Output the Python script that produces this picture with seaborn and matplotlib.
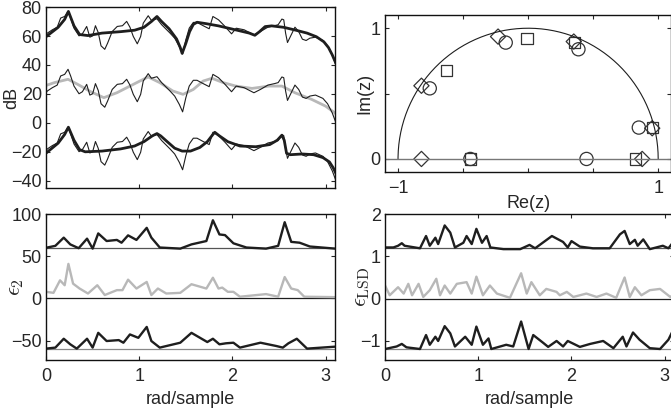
import numpy as np
import pandas as pd
import matplotlib
matplotlib.use("Agg")
from matplotlib import pyplot as plt
import seaborn as sns

# --- spectrum (thin line), drawn three times with offsets ---
spec_x = [-0.02, 0.014, 0.068, 0.12, 0.157, 0.20, 0.236, 0.264, 0.30, 0.354, 0.39, 0.436,
          0.47, 0.50, 0.53, 0.56, 0.59, 0.63, 0.66, 0.71, 0.764, 0.82, 0.865, 0.90, 0.936,
          0.979, 1.015, 1.043, 1.096, 1.13, 1.19, 1.24, 1.33, 1.38, 1.43, 1.465, 1.50,
          1.536, 1.58, 1.62, 1.686, 1.75, 1.79, 1.85, 1.92, 1.99, 2.04, 2.125, 2.23, 2.30,
          2.38, 2.45, 2.49, 2.53, 2.55, 2.57, 2.59, 2.63, 2.67, 2.71, 2.75, 2.79, 2.83,
          2.89, 2.97, 3.02, 3.07, 3.11]
spec_y = [19.2, 22, 24.3, 26.1, 32.4, 33.5, 37, 32.4, 25.4, 20.1, 21.5, 26.6,
          19.2, 20.1, 27.1, 22.4, 13.2, 10.8, 15, 23.1, 26.6, 27.1, 30.1, 26.1, 19.7,
          14.6, 19.7, 28.9, 34, 30.8, 31.9, 27.8, 22, 18.5, 12.7, 7.6, 17.4,
          25.4, 29.4, 29.4, 27.1, 25, 33.5, 31.2, 26.6, 21.5, 25.4, 24.3, 20.8, 23.1,
          26.1, 27.1, 27.8, 31.7, 31.2, 21.9, 15.5, 20.8, 26.1, 23.1, 17.8, 16.9, 18.5,
          19.2, 16.9, 13.2, 6.9, 0]
spec_offsets = [40, 0, -40]

# --- model fits (thick lines) ---
fit_top_x = [-0.02, 0.13, 0.20, 0.24, 0.30, 0.36, 0.45, 0.60, 0.80, 0.95, 1.05, 1.13,
             1.19, 1.24, 1.32, 1.40, 1.44, 1.46, 1.50, 1.54, 1.58, 1.62, 1.72, 1.85,
             1.95, 2.05, 2.18, 2.24, 2.29, 2.35, 2.42, 2.55, 2.68, 2.80, 2.90, 2.98,
             3.03, 3.07, 3.11]
fit_top_y = [58.5, 66, 71.5, 77, 67, 61, 60.3, 62, 63, 64, 66, 70,
             73.5, 70, 65, 58, 52, 48, 55, 63, 68, 69.5, 68.5, 67,
             65.5, 64, 62, 60.5, 63, 66.5, 67, 66, 64, 62, 59.5, 56,
             52, 47, 41]
fit_mid_x = [-0.02, 0.09, 0.236, 0.34, 0.48, 0.62, 0.76, 0.90, 1.007, 1.096, 1.22,
             1.36, 1.47, 1.58, 1.686, 1.78, 1.90, 2.036, 2.21, 2.39, 2.53, 2.67, 2.85,
             3.00, 3.11]
fit_mid_y = [25.4, 27.8, 30.1, 26.6, 21.5, 17.4, 20.8, 25.4, 28.9, 31.7, 27.8,
             22, 19.7, 23.1, 28.9, 30.8, 27.8, 25.4, 23.8, 25.4, 25.4, 20.8, 16.2,
             11.5, 6.3]
fit_bot_x = [-0.02, 0.13, 0.20, 0.24, 0.30, 0.36, 0.42, 0.60, 0.80, 0.95, 1.05, 1.14,
             1.19, 1.23, 1.30, 1.38, 1.46, 1.55, 1.65, 1.73, 1.79, 1.81, 1.86, 1.95,
             2.08, 2.25, 2.40, 2.48, 2.53, 2.555, 2.58, 2.62, 2.75, 2.87, 2.97, 3.04,
             3.08, 3.11]
fit_bot_y = [-22, -14, -8, -3, -12, -18.5, -20, -19.5, -18, -16, -13, -9,
             -7.4, -9, -13, -17.5, -19.5, -19.5, -17, -13, -8, -6.5, -9, -13,
             -16, -16.5, -15, -12, -8.5, -12, -21, -22, -21.5, -22, -24, -27,
             -31, -35]

# --- poles in the z-plane ---
circ_re = [-0.756, -0.172, 0.387, 0.851, -0.444, 0.449]
circ_im = [0.54, 0.89, 0.839, 0.24, 0.0, 0.0]
sq_re = [-0.628, -0.008, 0.359, 0.954, -0.444, 0.826]
sq_im = [0.676, 0.923, 0.893, 0.24, 0.0, 0.0]
dia_re = [-0.82, -0.231, 0.351, 0.954, -0.82, 0.877]
dia_im = [0.56, 0.936, 0.898, 0.235, 0.0, 0.0]

# --- epsilon_2 error curves (already offset) ---
e2_x_top = [0.00, 0.10, 0.19, 0.26, 0.35, 0.44, 0.50, 0.56, 0.65, 0.76, 0.81, 0.88, 0.97,
            1.08, 1.13, 1.22, 1.44, 1.56, 1.72, 1.79, 1.86, 1.92, 2.01, 2.15, 2.36, 2.49,
            2.56, 2.63, 2.72, 2.83, 3.10]
e2_y_top = [60, 62.3, 72, 64, 59.5, 70.8, 59, 77, 68, 69.3, 66, 74.7, 69.3,
            83.6, 72, 60.3, 59, 64, 68, 92.6, 75.8, 75, 65.3, 60.3, 59, 62.3,
            90.3, 67, 66, 61.5, 59]
e2_x_mid = [0.00, 0.08, 0.15, 0.20, 0.24, 0.29, 0.36, 0.45, 0.55, 0.63, 0.76, 0.82, 0.88,
            0.97, 1.08, 1.13, 1.20, 1.29, 1.44, 1.56, 1.72, 1.79, 1.85, 1.89, 1.95, 2.01,
            2.08, 2.36, 2.49, 2.56, 2.63, 2.70, 2.77, 3.10]
e2_y_mid = [7.8, 6.6, 21.4, 15.6, 40.9, 17.5, 11.7, 5.8, 15.6, 4, 9.8, 9.8, 22.2,
            11.7, 19.5, 4, 11.7, 5.8, 6.6, 16.8, 11.7, 24.5, 11.7, 12.8, 7.8, 7.8,
            2, 5.1, 2, 25.3, 11.7, 9.8, 2, 1.5]
e2_x_bot = [0.00, 0.10, 0.19, 0.26, 0.33, 0.44, 0.50, 0.56, 0.65, 0.78, 0.83, 0.90, 0.99,
            1.08, 1.13, 1.22, 1.44, 1.56, 1.68, 1.73, 1.79, 1.86, 1.93, 2.01, 2.08, 2.30,
            2.47, 2.54, 2.60, 2.69, 2.80, 3.10]
e2_y_bot = [-59.5, -58.3, -47.8, -54.4, -59.5, -47.8, -58.3, -40.8, -50.5, -49.4, -52.5,
            -42.7, -46.7, -33.8, -50.5, -58.3, -52.5, -40.8, -48.5, -51.7, -47.8, -54.4,
            -53.2, -52.5, -58.3, -52.5, -56.4, -58.3, -53.2, -47.8, -59.5, -57.2]

# --- epsilon_LSD error curves (already offset) ---
lsd_x_top = [0.00, 0.09, 0.14, 0.18, 0.21, 0.375, 0.44, 0.48, 0.54, 0.57, 0.64, 0.70, 0.75,
             0.84, 0.875, 0.93, 0.98, 1.04, 1.09, 1.13, 1.27, 1.45, 1.55, 1.61, 1.79, 1.91,
             1.96, 2.00, 2.09, 2.23, 2.41, 2.52, 2.57, 2.625, 2.68, 2.71, 2.77, 2.84, 2.98,
             3.04, 3.10]
lsd_y_top = [1.21, 1.21, 1.25, 1.31, 1.25, 1.19, 1.48, 1.25, 1.44, 1.29, 1.73, 1.56, 1.21,
             1.32, 1.48, 1.29, 1.65, 1.32, 1.48, 1.21, 1.17, 1.17, 1.27, 1.19, 1.48, 1.34,
             1.21, 1.36, 1.23, 1.19, 1.19, 1.52, 1.60, 1.29, 1.39, 1.25, 1.40, 1.17, 1.25,
             1.19, 1.36]
lsd_x_mid = [0.00, 0.05, 0.14, 0.20, 0.25, 0.29, 0.36, 0.41, 0.48, 0.55, 0.59, 0.64, 0.70,
             0.77, 0.875, 0.93, 0.98, 1.05, 1.125, 1.20, 1.34, 1.46, 1.52, 1.57, 1.66, 1.73,
             1.84, 1.875, 1.95, 2.02, 2.16, 2.27, 2.375, 2.48, 2.57, 2.625, 2.68, 2.75, 2.84,
             2.95, 3.06, 3.10]
lsd_y_mid = [0.31, 0.08, 0.27, 0.12, 0.35, 0.08, 0.35, 0.04, 0.2, 0.47, 0.08, 0.31, 0.12,
             0.35, 0.39, 0.12, 0.52, 0.08, 0.31, 0.12, 0.02, 0.60, 0.12, 0.39, 0.08, 0.23,
             0.16, 0.08, 0.16, 0.04, 0.12, 0.04, 0.12, 0.02, 0.50, 0.04, 0.27, 0.08, 0.2,
             0.23, 0.04, 0.1]
lsd_x_bot = [0.00, 0.125, 0.18, 0.23, 0.375, 0.44, 0.48, 0.54, 0.57, 0.64, 0.70, 0.75, 0.86,
             0.93, 0.98, 1.05, 1.11, 1.14, 1.30, 1.375, 1.46, 1.54, 1.59, 1.70, 1.75, 1.84,
             1.91, 1.96, 2.09, 2.20, 2.34, 2.45, 2.55, 2.59, 2.66, 2.73, 2.84, 2.95, 3.04,
             3.10]
lsd_y_bot = [-1.19, -1.13, -1.07, -1.15, -1.19, -0.86, -1.09, -0.90, -1.0, -0.65, -0.82,
             -1.13, -0.90, -1.09, -0.66, -1.09, -0.94, -1.19, -1.09, -1.13, -0.54, -1.19,
             -0.86, -1.05, -1.14, -1.0, -1.13, -1.0, -1.14, -1.07, -1.0, -1.17, -0.90, -1.13,
             -0.80, -0.97, -1.17, -1.19, -0.97, -0.70]

BLACK = "#1e1e1e"
GRAY = "#b8b8b8"

sns.set_style("ticks")
plt.rcParams.update({
    "font.family": ["Liberation Sans", "DejaVu Sans"],
    "font.size": 13,
    "mathtext.fontset": "cm",
    "xtick.direction": "in",
    "ytick.direction": "in",
    "xtick.top": True,
    "ytick.right": True,
    "axes.linewidth": 1.0,
    "axes.edgecolor": "#111111",
    "lines.solid_joinstyle": "round",
})

fig = plt.figure(figsize=(6.71, 4.15), dpi=100)
ax_db = fig.add_axes([0.0686, 0.547, 0.4307, 0.436])
ax_z = fig.add_axes([0.5738, 0.5855, 0.4265, 0.378])
ax_e2 = fig.add_axes([0.0686, 0.1325, 0.4307, 0.3518])
ax_lsd = fig.add_axes([0.5738, 0.1325, 0.4307, 0.3518])


def line(ax, x, y, color, lw):
    sns.lineplot(x=x, y=y, ax=ax, color=color, lw=lw, sort=False,
                 estimator=None, legend=False)


# top-left: spectra and fits
line(ax_db, fit_mid_x, fit_mid_y, GRAY, 2.0)
for off in spec_offsets:
    line(ax_db, spec_x, np.array(spec_y) + off, BLACK, 0.8)
line(ax_db, fit_top_x, fit_top_y, BLACK, 2.0)
line(ax_db, fit_bot_x, fit_bot_y, BLACK, 2.0)
ax_db.set_xlim(0, 3.1)
ax_db.set_ylim(-45, 80)
ax_db.set_yticks([-40, -20, 0, 20, 40, 60, 80])
ax_db.set_xticks([0, 1, 2, 3])
ax_db.set_xticklabels([])
ax_db.set_ylabel("dB")
ax_db.yaxis.set_label_coords(-0.09, 0.5)

# top-right: z-plane
t = np.linspace(0, np.pi, 200)
ax_z.plot(np.cos(t), np.sin(t), color=BLACK, lw=0.8)
ax_z.axhline(0, color="#777777", lw=1.0)
poles = pd.concat([
    pd.DataFrame({"re": circ_re, "im": circ_im, "model": "a"}),
    pd.DataFrame({"re": sq_re, "im": sq_im, "model": "b"}),
    pd.DataFrame({"re": dia_re, "im": dia_im, "model": "c"}),
])
sizes = {"a": 90, "b": 65, "c": 60}
for m, mk in zip(["a", "b", "c"], ["o", "s", "D"]):
    sub = poles[poles.model == m]
    sns.scatterplot(data=sub, x="re", y="im", ax=ax_z, marker=mk, s=sizes[m],
                    facecolor="none", edgecolor="#333333", linewidth=0.9, legend=False)
ax_z.set_xlim(-1.1, 1.1)
ax_z.set_ylim(-0.1, 1.1)
ax_z.set_xticks([-1, -0.5, 0, 0.5, 1])
ax_z.set_xticklabels(["\u22121", "", "", "", "1"])
ax_z.set_yticks([0, 0.5, 1])
ax_z.set_yticklabels(["0", "", "1"])
ax_z.set_xlabel("Re(z)", labelpad=-2)
ax_z.set_ylabel("Im(z)")
ax_z.yaxis.set_label_coords(-0.04, 0.5)

# bottom-left: epsilon_2
ax_e2.axhline(60, color="#555555", lw=0.9)
ax_e2.axhline(0, color=BLACK, lw=0.9)
ax_e2.axhline(-60, color="#888888", lw=0.9)
line(ax_e2, e2_x_top, e2_y_top, BLACK, 1.7)
line(ax_e2, e2_x_mid, e2_y_mid, GRAY, 1.7)
line(ax_e2, e2_x_bot, e2_y_bot, BLACK, 1.7)
ax_e2.set_xlim(0, 3.1)
ax_e2.set_ylim(-73, 100)
ax_e2.set_yticks([-50, 0, 50, 100])
ax_e2.set_xticks([0, 1, 2, 3])
ax_e2.set_xlabel("rad/sample", labelpad=4)
ax_e2.set_ylabel(r"$\epsilon_2$", fontsize=16)
ax_e2.yaxis.set_label_coords(-0.07, 0.5)

# bottom-right: epsilon_LSD
ax_lsd.axhline(1.2, color="#555555", lw=0.9)
ax_lsd.axhline(0, color=BLACK, lw=0.9)
ax_lsd.axhline(-1.2, color="#888888", lw=0.9)
line(ax_lsd, lsd_x_top, lsd_y_top, BLACK, 1.7)
line(ax_lsd, lsd_x_mid, lsd_y_mid, GRAY, 1.7)
line(ax_lsd, lsd_x_bot, lsd_y_bot, BLACK, 1.7)
ax_lsd.set_xlim(0, 3.1)
ax_lsd.set_ylim(-1.45, 2)
ax_lsd.set_yticks([-1, 0, 1, 2])
ax_lsd.set_xticks([0, 1, 2, 3])
ax_lsd.set_xlabel("rad/sample", labelpad=4)
ax_lsd.set_ylabel(r"$\epsilon_{\rm LSD}$", fontsize=16)
ax_lsd.yaxis.set_label_coords(-0.045, 0.5)

for ax in (ax_db, ax_z, ax_e2, ax_lsd):
    ax.tick_params(axis="y", pad=3, length=3)
    ax.tick_params(axis="x", pad=6, length=3)
    for s in ax.spines.values():
        s.set_visible(True)

fig.savefig("out.png", dpi=100)
